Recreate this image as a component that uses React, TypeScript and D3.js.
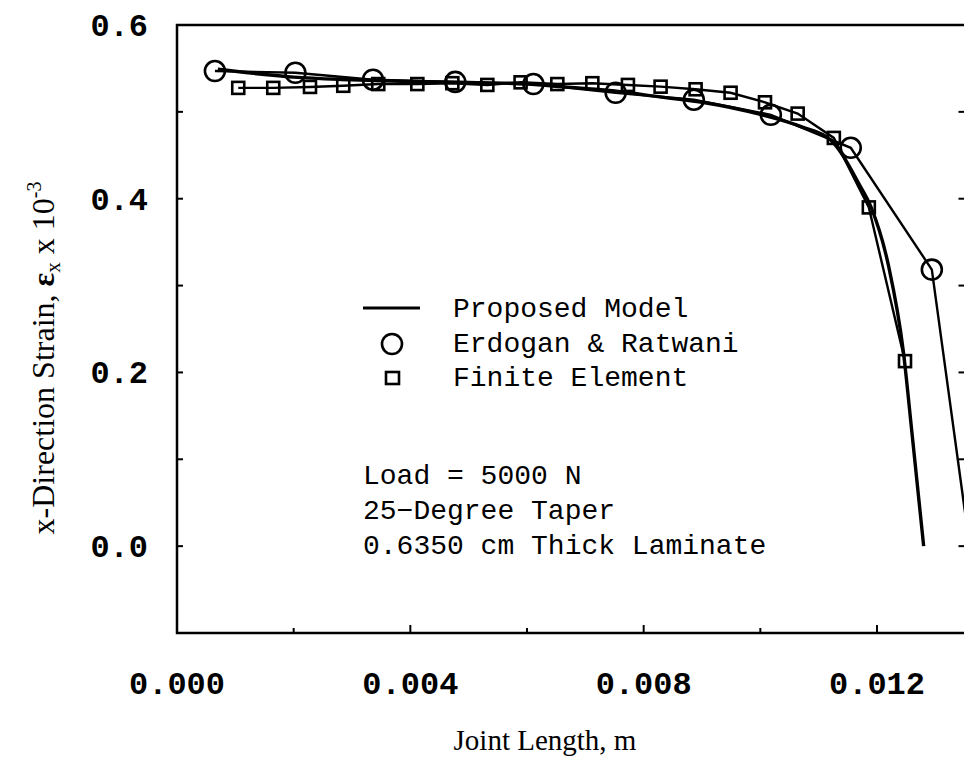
import React from "react";
import * as d3 from "d3";

// Proposed Model (solid curve)
const modelX = [0.0007, 0.0015, 0.002, 0.003, 0.004, 0.005, 0.006, 0.0066, 0.0075, 0.0083, 0.009, 0.01, 0.0107, 0.0112, 0.0117, 0.0119, 0.0122, 0.01245, 0.0126, 0.0128];
const modelY = [0.549, 0.543, 0.54, 0.537, 0.535, 0.534, 0.532, 0.529, 0.524, 0.517, 0.511, 0.497, 0.483, 0.468, 0.416, 0.39, 0.322, 0.225, 0.13, 0.0];

// Erdogan & Ratwani (circles)
const erX = [0.00065, 0.00203, 0.00336, 0.00477, 0.00611, 0.00752, 0.00886, 0.01018, 0.01155, 0.01294, 0.0143];
const erY = [0.547, 0.545, 0.537, 0.5345, 0.532, 0.522, 0.514, 0.4966, 0.4586, 0.3184, -0.35];

// Finite Element (squares)
const feX = [0.00105, 0.00165, 0.00228, 0.00285, 0.00345, 0.00412, 0.00472, 0.00532, 0.00589, 0.00652, 0.00712, 0.00773, 0.00829, 0.00889, 0.00949, 0.01008, 0.01064, 0.01126, 0.01186, 0.01248];
const feY = [0.5276, 0.5276, 0.5287, 0.53, 0.532, 0.532, 0.533, 0.531, 0.534, 0.532, 0.533, 0.531, 0.529, 0.526, 0.522, 0.511, 0.498, 0.47, 0.39, 0.213];

const xTickLabels = [0, 0.004, 0.008, 0.012];
const xMinorTicks = [0.002, 0.006, 0.01];
const yTickLabels = [0.0, 0.2, 0.4, 0.6];
const yMinorTicks = [0.1, 0.3, 0.5];
const legendLabels = ["Proposed Model", "Erdogan & Ratwani", "Finite Element"];
const infoLines = ["Load = 5000 N", "25\u2212Degree Taper", "0.6350 cm Thick Laminate"];

const W = 964, H = 765;
const L = 177, R = 964.5, T = 25, B = 633;

export default function App() {
  const x = d3.scaleLinear().domain([0, 0.0135]).range([L, R]);
  const y = d3.scaleLinear().domain([-0.1, 0.6]).range([B, T]);

  const model = modelX.map((v, i) => [v, modelY[i]] as [number, number]);
  const er = erX.map((v, i) => [v, erY[i]] as [number, number]);
  const fe = feX.map((v, i) => [v, feY[i]] as [number, number]);

  const smooth = d3.line<[number, number]>().x(d => x(d[0])).y(d => y(d[1])).curve(d3.curveMonotoneX);
  const lin = d3.line<[number, number]>().x(d => x(d[0])).y(d => y(d[1]));

  const mono = "'Liberation Mono', 'Courier New', monospace";
  const serif = "'Liberation Serif', 'Times New Roman', serif";

  return (
    <svg width={W} height={H} style={{ position: "absolute", left: 0, top: 0, background: "#fff" }}>
      <rect x={0} y={0} width={W} height={H} fill="#fff" />
      <defs>
        <clipPath id="plot">
          <rect x={L} y={T} width={R - L} height={B - T} />
        </clipPath>
      </defs>

      {/* frame */}
      <path d={`M${R + 1},${T} L${L},${T} L${L},${B} L${R + 1},${B}`} fill="none" stroke="#000" strokeWidth={2.5} />
      <line x1={R + 1} x2={R + 1} y1={T} y2={B} stroke="#000" strokeWidth={2.5} />

      {/* x ticks */}
      {xTickLabels.map(v => (
        <line key={"xt" + v} x1={x(v)} x2={x(v)} y1={B} y2={B - 8} stroke="#000" strokeWidth={2} />
      ))}
      {xMinorTicks.map(v => (
        <line key={"xm" + v} x1={x(v)} x2={x(v)} y1={B} y2={B - 5} stroke="#000" strokeWidth={2} />
      ))}
      {xTickLabels.map(v => (
        <text key={"xl" + v} x={x(v)} y={694} textAnchor="middle" fontFamily={mono} fontWeight="bold" fontSize={32}>
          {d3.format(".3f")(v)}
        </text>
      ))}

      {/* y ticks */}
      {[...yTickLabels, ...yMinorTicks].map(v => (
        <g key={"yt" + v}>
          <line x1={L} x2={L + 6} y1={y(v)} y2={y(v)} stroke="#000" strokeWidth={2} />
          <line x1={R - 6} x2={R} y1={y(v)} y2={y(v)} stroke="#000" strokeWidth={2} />
        </g>
      ))}
      {yTickLabels.map(v => (
        <text key={"yl" + v} x={148} y={y(v) + 11} textAnchor="end" fontFamily={mono} fontWeight="bold" fontSize={32}>
          {d3.format(".1f")(v)}
        </text>
      ))}

      {/* axis titles */}
      <text x={545} y={750} textAnchor="middle" fontFamily={serif} fontSize={29}>Joint Length, m</text>
      <text transform="translate(54,358) rotate(-90)" textAnchor="middle" fontFamily={serif} fontSize={32}>
        x-Direction Strain, <tspan fontWeight="bold">ε</tspan>
        <tspan dy={6} fontSize={21}>x</tspan>
        <tspan dy={-6}> x 10</tspan>
        <tspan dy={-13} fontSize={20}>-3</tspan>
      </text>

      {/* data */}
      <g clipPath="url(#plot)">
        <path d={lin(er) || ""} fill="none" stroke="#000" strokeWidth={2.4} />
        <path d={lin(fe) || ""} fill="none" stroke="#000" strokeWidth={2.4} />
        <path d={smooth(model) || ""} fill="none" stroke="#000" strokeWidth={3.4} />
        {er.map((d, i) => (
          <circle key={"c" + i} cx={x(d[0])} cy={y(d[1])} r={10} fill="none" stroke="#000" strokeWidth={2.6} />
        ))}
        {fe.map((d, i) => (
          <rect key={"s" + i} x={x(d[0]) - 6} y={y(d[1]) - 6} width={12} height={12} fill="none" stroke="#000" strokeWidth={2.6} />
        ))}
      </g>

      {/* legend */}
      <line x1={363} x2={420} y1={308} y2={308} stroke="#000" strokeWidth={3} />
      <circle cx={392} cy={344} r={10} fill="none" stroke="#000" strokeWidth={2.6} />
      <rect x={386} y={372} width={13} height={12} fill="none" stroke="#000" strokeWidth={2.6} />
      {legendLabels.map((t, i) => (
        <text key={t} x={453} y={317 + i * 34.5} fontFamily={mono} fontSize={28}>{t}</text>
      ))}
      {infoLines.map((t, i) => (
        <text key={t} x={363} y={484 + i * 35} fontFamily={mono} fontSize={28}>{t}</text>
      ))}
    </svg>
  );
}
